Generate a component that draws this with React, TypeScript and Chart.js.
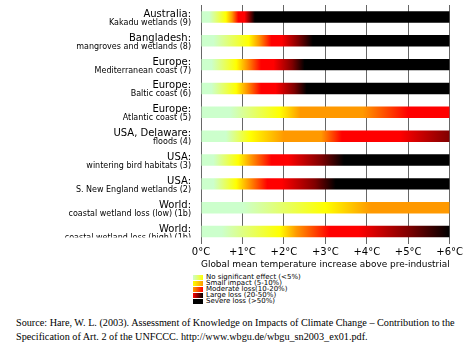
import React, { useEffect, useRef } from "react";
import { Chart, registerables } from "chart.js";

Chart.register(...registerables);

// ---------- data ----------
const regions = [
  "Australia:",
  "Bangladesh:",
  "Europe:",
  "Europe:",
  "Europe:",
  "USA, Delaware:",
  "USA:",
  "USA:",
  "World:",
  "World:",
];
const systems = [
  "Kakadu wetlands (9)",
  "mangroves and wetlands (8)",
  "Mediterranean coast (7)",
  "Baltic coast (6)",
  "Atlantic coast (5)",
  "floods (4)",
  "wintering bird habitats (3)",
  "S. New England wetlands (2)",
  "coastal wetland loss (low) (1b)",
  "coastal wetland loss (high) (1b)",
];
const xTickLabels = ["0°C", "+1°C", "+2°C", "+3°C", "+4°C", "+5°C", "+6°C"];
const tempMin = 0;
const tempMax = 6;
const xTitle = "Global mean temperature increase above pre-industrial";

// impact levels: 0 none, 1 small, 2 moderate, 3 large, 4 large (dark), 5 severe
const levelColors = ["#ccffcc", "#ffff00", "#ff9900", "#ff0000", "#800000", "#000000"];

// [temperature increase (°C), impact level] colour stops
const kakaduStops = [[0, 0], [0.2, 0], [0.6, 1], [0.75, 2], [0.9, 3], [1.05, 3], [1.3, 5], [6, 5]];
const bangladeshStops = [[0, 0], [0.3, 0], [1.15, 1], [1.4, 2], [1.7, 3], [1.95, 3], [2.35, 4], [2.7, 5], [6, 5]];
const mediterraneanStops = [[0, 0], [0.25, 0], [0.85, 1], [1.1, 2], [1.45, 3], [1.75, 3], [2.2, 4], [2.5, 5], [6, 5]];
const balticStops = [[0, 0], [0.25, 0], [0.85, 1], [1.1, 2], [1.45, 3], [1.8, 3], [2.25, 4], [2.55, 5], [6, 5]];
const atlanticStops = [[0, 0], [0.7, 0], [1.9, 1], [2.4, 2], [3.9, 2], [5.0, 3], [6, 3]];
const delawareStops = [[0, 0], [0.6, 0], [1.2, 1], [2.0, 2], [2.9, 2], [3.4, 3], [4.8, 3], [6, 4]];
const birdStops = [[0, 0], [0.3, 0], [0.9, 1], [1.2, 2], [1.7, 3], [2.1, 3], [2.9, 4], [3.45, 5], [6, 5]];
const newEnglandStops = [[0, 0], [0.3, 0], [0.85, 1], [1.15, 2], [1.6, 3], [1.95, 3], [2.75, 4], [3.25, 5], [6, 5]];
const worldLowStops = [[0, 0], [1.0, 0], [3.0, 1], [4.1, 2], [6, 2]];
const worldHighStops = [[0, 0], [0.5, 0], [1.9, 1], [2.3, 2], [3.1, 3], [3.8, 3], [5.0, 4], [6, 5]];

const barStops = [
  kakaduStops,
  bangladeshStops,
  mediterraneanStops,
  balticStops,
  atlanticStops,
  delawareStops,
  birdStops,
  newEnglandStops,
  worldLowStops,
  worldHighStops,
];

const legendLabels = [
  "No significant effect (<5%)",
  "Small impact (5-10%)",
  "Moderate loss(10-20%)",
  "Large loss (20-50%)",
  "Severe loss (>50%)",
];
const legendSwatchLevels = [[0, 1], [1, 2], [2, 3], [3, 5], [5, 5]];

const sourceText =
  "Source: Hare, W. L. (2003). Assessment of Knowledge on Impacts of Climate Change \u2013 Contribution to the Specification of Art. 2 of the UNFCCC. http://www.wbgu.de/wbgu_sn2003_ex01.pdf.";

// ---------- chart ----------
const labelPlugin = {
  id: "twoLineLabels",
  afterDraw(chart: any) {
    const ctx = chart.ctx;
    const y = chart.scales.y;
    const right = chart.chartArea.left - 10;
    ctx.save();
    ctx.beginPath();
    ctx.rect(0, 0, chart.chartArea.left, chart.chartArea.bottom - 6);
    ctx.clip();
    ctx.fillStyle = "#000";
    ctx.textAlign = "right";
    ctx.textBaseline = "alphabetic";
    regions.forEach((r, i) => {
      const py = y.getPixelForValue(i);
      ctx.font = "10px 'DejaVu Sans'";
      ctx.fillText(r, right, py);
      ctx.font = "8px 'DejaVu Sans'";
      ctx.fillText(systems[i], right, py + 8);
    });
    ctx.restore();
  },
};

function ImpactChart() {
  const ref = useRef<HTMLCanvasElement | null>(null);
  useEffect(() => {
    if (!ref.current) return;
    const chart = new Chart(ref.current, {
      type: "bar",
      data: {
        labels: regions,
        datasets: [
          {
            data: regions.map(() => [tempMin, tempMax]) as any,
            backgroundColor: (c: any) => {
              const ch = c.chart;
              const xs = ch.scales && ch.scales.x;
              if (!ch.chartArea || !xs || c.dataIndex === undefined) return "#ccc";
              const x0 = xs.getPixelForValue(tempMin);
              const x1 = xs.getPixelForValue(tempMax);
              if (!Number.isFinite(x0) || !Number.isFinite(x1) || x1 === x0) return "#ccc";
              const g = ch.ctx.createLinearGradient(x0, 0, x1, 0);
              for (const [t, l] of barStops[c.dataIndex]) {
                g.addColorStop((t - tempMin) / (tempMax - tempMin), levelColors[l]);
              }
              return g;
            },
            borderWidth: 0,
            borderSkipped: false,
            categoryPercentage: 1,
            barPercentage: 0.48,
          },
        ],
      },
      options: {
        indexAxis: "y",
        responsive: false,
        animation: false,
        layout: { padding: { left: 201, right: 15, top: 5, bottom: 0 } },
        plugins: { legend: { display: false }, tooltip: { enabled: false } },
        scales: {
          y: { display: false, offset: true },
          x: {
            type: "linear",
            min: tempMin,
            max: tempMax,
            afterFit: (s: any) => {
              s.height = 29.5;
            },
            grid: { color: "#666", drawTicks: false, lineWidth: 1 },
            border: { display: false },
            ticks: {
              stepSize: 1,
              padding: 4,
              color: "#000",
              font: { family: "DejaVu Sans", size: 10, lineHeight: 1 },
              callback: (v: any) => xTickLabels[Math.round(v - tempMin)],
            },
            title: {
              display: true,
              text: xTitle,
              color: "#000",
              font: { family: "DejaVu Sans", size: 9.5, lineHeight: 1 },
              padding: { top: 2, bottom: 4 },
            },
          },
        },
      },
      plugins: [labelPlugin],
    } as any);
    return () => chart.destroy();
  }, []);
  return <canvas ref={ref} width={467} height={273} style={{ display: "block" }} />;
}

export default function App() {
  return (
    <div style={{ position: "absolute", left: 0, top: 0, width: 467, height: 350, background: "#fff" }}>
      <ImpactChart />
      <div style={{ position: "absolute", left: 193, top: 274, fontFamily: "'DejaVu Sans'", fontSize: 7, color: "#000" }}>
        {legendLabels.map((lab, i) => (
          <div key={i} style={{ display: "flex", alignItems: "center", height: 6, lineHeight: "6px", whiteSpace: "nowrap" }}>
            <span
              style={{
                display: "inline-block",
                width: 10,
                height: 5,
                marginRight: 3,
                background: `linear-gradient(to right, ${levelColors[legendSwatchLevels[i][0]]}, ${levelColors[legendSwatchLevels[i][1]]})`,
              }}
            />
            <span>{lab}</span>
          </div>
        ))}
      </div>
      <div
        style={{
          position: "absolute",
          left: 16,
          top: 316,
          width: 451,
          fontFamily: "'Liberation Serif', 'Times New Roman', serif",
          fontSize: 10.2,
          lineHeight: "13.5px",
          color: "#000",
        }}
      >
        {sourceText}
      </div>
    </div>
  );
}
